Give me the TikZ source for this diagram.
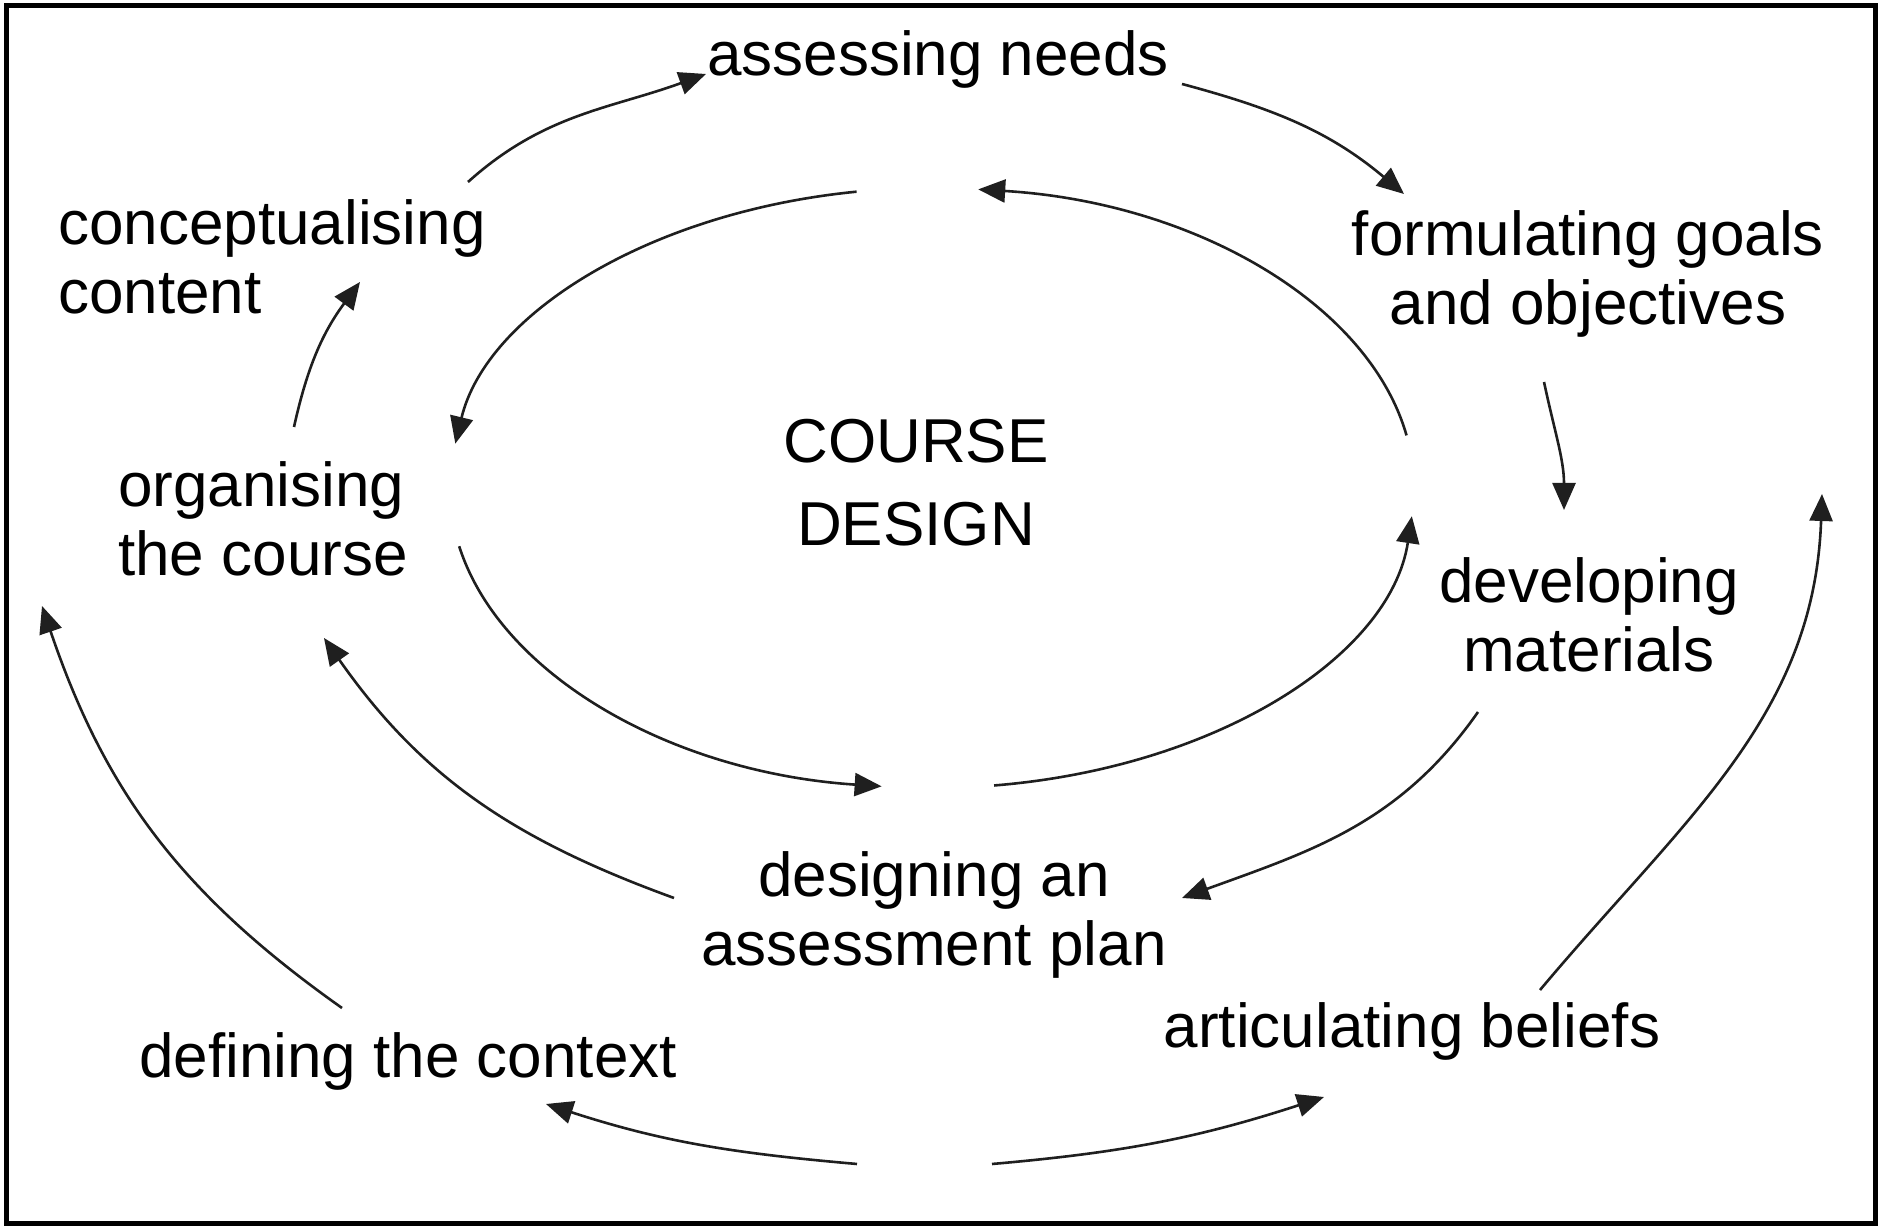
\documentclass[tikz,border=0pt]{standalone}
\usepackage{fontspec}
\setmainfont{Liberation Sans}
\usetikzlibrary{arrows.meta,calc}
\begin{document}
\begin{tikzpicture}[x=1pt,y=1pt,
  lbl/.style={inner sep=0pt,font=\fontsize{62pt}{69pt}\selectfont,anchor=base,align=center},
  lbll/.style={lbl,align=left,anchor=base west},
  arr/.style={line width=2.6pt,draw=black!88,-{Triangle[length=27pt,width=23pt]}}]
\useasboundingbox (0,0) rectangle (1881,1230);
\draw[line width=5pt] (6,6) rectangle (1875,1224);

% labels (base anchor = baseline of the last line)
\node[lbl] (assess) at (938,1154) {assessing needs};
\node[lbll] (concept) at (58,916) {conceptualising\\content};
\node[lbl] (goals) at (1588,905) {formulating goals\\and objectives};
\node[lbl,font=\fontsize{62pt}{83pt}\selectfont] (cd) at (916,684) {COURSE\\DESIGN};
\node[lbll] (organ) at (118,654) {organising\\the course};
\node[lbl] (develop) at (1589,558) {developing\\materials};
\node[lbl] (designing) at (934,264) {designing an\\assessment plan};
\node[lbl] (context) at (408,152) {defining the context};
\node[lbl] (beliefs) at (1412,182) {articulating beliefs};

% inner ellipse
\coordinate (ctr) at (932,742);
\coordinate (i7) at ($(ctr)+(99:482 and 300)$);
\coordinate (i8) at ($(ctr)+(191.2:482 and 300)$);
\coordinate (i9) at ($(ctr)+(277.4:482 and 300)$);
\coordinate (i10) at ($(ctr)+(10.1:482 and 300)$);
\draw[arr] (i7) arc[start angle=99,end angle=171.5,x radius=482,y radius=300];
\draw[arr] (i8) arc[start angle=191.2,end angle=264,x radius=482,y radius=300];
\draw[arr] (i9) arc[start angle=277.4,end angle=354.6,x radius=482,y radius=300];
\draw[arr] (i10) arc[start angle=10.1,end angle=84.5,x radius=482,y radius=300];

% middle ring
\coordinate (a1s) at (468,1048); \coordinate (a1e) at (706,1156);
\coordinate (a2s) at (1182,1146); \coordinate (a2e) at (1404,1036);
\coordinate (a3s) at (1544,848); \coordinate (a3e) at (1564,720);
\coordinate (a4s) at (1478,518); \coordinate (a4e) at (1182,332);
\coordinate (a5s) at (674,332); \coordinate (a5e) at (324,592);
\coordinate (a6s) at (294,803); \coordinate (a6e) at (360,948);
\draw[arr] (a1s) to[out=42,in=200] (a1e);
\draw[arr] (a2s) to[out=-15,in=140] (a2e);
\draw[arr] (a3s) to[out=-78,in=90] (a3e);
\draw[arr] (a4s) to[out=-125,in=20] (a4e);
\draw[arr] (a5s) to[out=160,in=-55] (a5e);
\draw[arr] (a6s) to[bend left=12] (a6e);

% outer ring
\coordinate (b1s) at (857,66); \coordinate (b1e) at (546,126);
\coordinate (b2s) at (992,66); \coordinate (b2e) at (1324,133);
\coordinate (b3s) at (342,222); \coordinate (b3e) at (42,624);
\coordinate (b4s) at (1540,240); \coordinate (b4e) at (1822,736);
\draw[arr] (b1s) to[out=175,in=-18] (b1e);
\draw[arr] (b2s) to[out=5,in=198] (b2e);
\draw[arr] (b3s) to[bend left=18] (b3e);
\draw[arr] (b4s) to[out=50,in=-92] (b4e);
\end{tikzpicture}
\end{document}
